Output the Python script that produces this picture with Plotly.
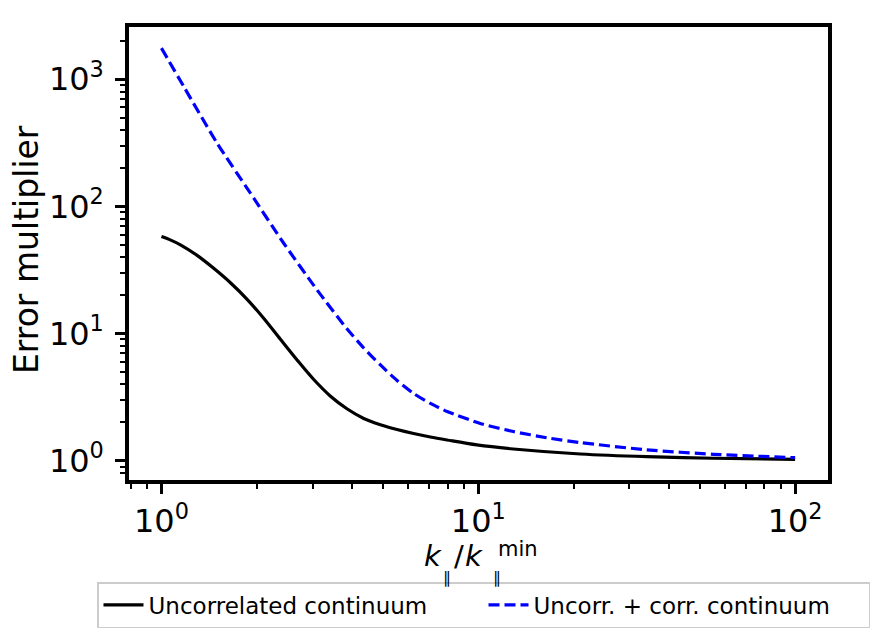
import plotly.graph_objects as go
import math

# Data
x_uncorr = [1.0, 1.07, 1.148, 1.296, 1.462, 1.651, 1.864, 2.102, 2.374, 2.68, 3.02, 3.41, 3.85,
            4.35, 4.91, 5.54, 6.25, 7.06, 7.97, 9.9, 12.9, 21.0, 34.0, 55.2, 100.0]
y_uncorr = [57.9, 54.3, 49.9, 41.2, 32.6, 25.1, 18.6, 13.2, 9.02, 6.20, 4.37, 3.23, 2.56,
            2.15, 1.92, 1.76, 1.637, 1.536, 1.455, 1.33, 1.236, 1.129, 1.075, 1.045, 1.026]

x_corr = [1.0, 1.176, 1.499, 1.909, 2.432, 3.10, 3.85, 4.35, 4.91, 5.54, 6.25, 7.06, 7.97,
          10.15, 12.9, 16.5, 21.0, 34.0, 55.2, 100.0]
y_corr = [1758, 877, 314, 127, 51.3, 22.0, 10.9, 7.70, 5.66, 4.28, 3.38, 2.82, 2.44,
          1.962, 1.697, 1.514, 1.388, 1.218, 1.123, 1.056]

series_names = ["Uncorrelated continuum", "Uncorr. + corr. continuum"]

x_major = [1, 10, 100]
x_major_text = ["10<sup>0</sup>", "10<sup>1</sup>", "10<sup>2</sup>"]
y_major = [1, 10, 100, 1000]
y_major_text = ["10<sup>0</sup>", "10<sup>1</sup>", "10<sup>2</sup>", "10<sup>3</sup>"]

x_minor = [m * 10 ** e for e in range(-1, 3) for m in range(2, 10)]
y_minor = [m * 10 ** e for e in range(-1, 4) for m in range(2, 10)]

FONT = "DejaVu Sans"

fig = go.Figure()
fig.add_trace(go.Scatter(x=x_uncorr, y=y_uncorr, mode="lines", name=series_names[0],
                         line=dict(color="black", width=3.2, shape="spline", smoothing=0.9)))
fig.add_trace(go.Scatter(x=x_corr, y=y_corr, mode="lines", name=series_names[1],
                         line=dict(color="#0000ff", width=3.2, dash="11px,5px",
                                   shape="spline", smoothing=0.6)))

L, R, T, B = 129, 828, 27, 480
W, H = 880, 639


def px(xpix):
    return (xpix - L) / (R - L)


def py(ypix):
    return (B - ypix) / (B - T)


axis_common = dict(
    type="log", showgrid=False, zeroline=False, showline=True, mirror=True,
    linecolor="black", linewidth=3.5, ticks="outside", ticklen=10, tickwidth=2.5,
    tickcolor="black", tickfont=dict(family=FONT, size=32, color="black"),
)

fig.update_xaxes(
    **axis_common,
    range=[math.log10(0.79), math.log10(127)],
    tickmode="array", tickvals=x_major, ticktext=x_major_text,
    minor=dict(tickmode="array", tickvals=x_minor, ticks="outside", ticklen=5,
               tickwidth=2, tickcolor="black", showgrid=False),
)
fig.update_yaxes(
    **axis_common,
    range=[math.log10(0.705), math.log10(2577)],
    tickmode="array", tickvals=y_major, ticktext=y_major_text,
    ticklabelstandoff=5,
    minor=dict(tickmode="array", tickvals=y_minor, ticks="outside", ticklen=5,
               tickwidth=2, tickcolor="black", showgrid=False),
)

annotations = [
    dict(text="Error multiplier", x=px(27), y=py(250), textangle=-90,
         font=dict(family=FONT, size=33, color="black")),
    dict(text="<i>k</i>", x=px(433), y=py(556), font=dict(family=FONT, size=29, color="black")),
    dict(text="\u2225", x=px(447), y=py(577), font=dict(family=FONT, size=16, color="black")),
    dict(text="/", x=px(459), y=py(556), font=dict(family=FONT, size=29, color="black")),
    dict(text="<i>k</i>", x=px(474), y=py(556), font=dict(family=FONT, size=29, color="black")),
    dict(text="\u2225", x=px(497), y=py(577), font=dict(family=FONT, size=16, color="black")),
    dict(text="min", x=px(518), y=py(549), font=dict(family=FONT, size=21, color="black")),
]
for a in annotations:
    a.update(xref="paper", yref="paper", showarrow=False, xanchor="center", yanchor="middle")

fig.update_layout(
    width=W, height=H,
    margin=dict(l=L, r=W - R, t=T, b=H - B, pad=0, autoexpand=False),
    paper_bgcolor="white", plot_bgcolor="white",
    font=dict(family=FONT, color="black"),
    annotations=annotations,
    showlegend=True,
    legend=dict(orientation="h", x=px(97), xanchor="left", y=py(582), yanchor="top",
                font=dict(family=FONT, size=23, color="black"),
                bordercolor="#cccccc", borderwidth=1.5, bgcolor="white",
                itemwidth=40, entrywidth=330, entrywidthmode="pixels"),
)

fig.write_html("out.html")
